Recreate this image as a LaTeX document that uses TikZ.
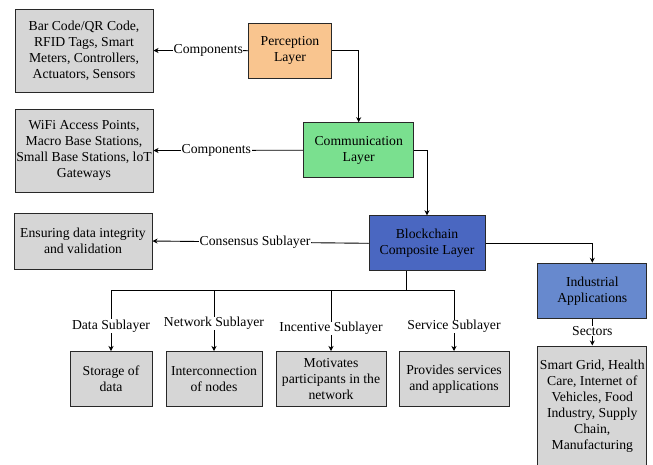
\documentclass[tikz,border=0pt]{standalone}
\usepackage{fontspec}
\setmainfont{Liberation Serif}
\newfontfamily\diagserif{Liberation Serif}
\usetikzlibrary{arrows.meta}
\definecolor{percfill}{RGB}{249,197,143}
\definecolor{commfill}{RGB}{122,224,143}
\definecolor{blockfill}{RGB}{74,103,193}
\definecolor{indfill}{RGB}{103,137,206}
\definecolor{greyfill}{RGB}{214,214,214}
\definecolor{edgeline}{RGB}{40,40,40}
\newcommand{\diagfont}{\diagserif\fontsize{13.7}{16}\selectfont}
\tikzset{
  box/.style={draw=edgeline, line width=1pt, align=center, inner sep=1pt,
    font=\diagfont},
  infobox/.style={box, fill=greyfill},
  conn/.style={line width=0.9pt, -{Stealth[length=5pt,width=5pt,inset=1.5pt]}},
  plain/.style={line width=0.9pt},
  lbl/.style={fill=white, inner sep=0.5pt, font=\diagfont}
}
\begin{document}
\begin{tikzpicture}[x=1pt,y=-1pt]
\useasboundingbox (0,0) rectangle (653,464);

% component / description boxes
\node[infobox, minimum width=138pt, minimum height=83pt] (barcode) at (84,50.5)
  {Bar Code/QR Code,\\RFID Tags, Smart\\Meters, Controllers,\\Actuators, Sensors};
\node[infobox, minimum width=138pt, minimum height=83pt] (wifi) at (84,150.5)
  {WiFi Access Points,\\Macro Base Stations,\\Small Base Stations, loT\\Gateways};
\node[infobox, minimum width=138pt, minimum height=56pt] (ensure) at (83,241)
  {Ensuring data integrity\\and validation};

% layers
\node[box, fill=percfill, minimum width=83pt, minimum height=55pt] (perc) at (290,50.7)
  {Perception\\Layer};
\node[box, fill=commfill, minimum width=110pt, minimum height=55pt] (comm) at (358.7,150.2)
  {Communication\\Layer};
\node[box, fill=blockfill, minimum width=116pt, minimum height=55pt] (block) at (427,243.3)
  {Blockchain\\Composite Layer};
\node[box, fill=indfill, minimum width=109pt, minimum height=55pt] (indus) at (592.3,290.8)
  {Industrial\\Applications};
\node[infobox, minimum width=109pt, minimum height=120pt] (sectorbox) at (592.3,406)
  {Smart Grid, Health\\Care, Internet of\\Vehicles, Food\\Industry, Supply\\Chain,\\Manufacturing};

% sublayer boxes
\node[infobox, minimum width=82pt, minimum height=55pt] (storage) at (111,379)
  {Storage of\\data};
\node[infobox, minimum width=96pt, minimum height=55pt] (intercon) at (214,379)
  {Interconnection\\of nodes};
\node[infobox, minimum width=110pt, minimum height=55pt] (motiv) at (331,379)
  {Motivates\\participants in the\\network};
\node[infobox, minimum width=110pt, minimum height=55pt] (service) at (454,379)
  {Provides services\\and applications};

% layer flow
\draw[conn] (perc.east) -| (comm.north);
\draw[conn] (comm.east) -| (block.north);
\draw[conn] (block.east) -| (indus.north);

% side connectors with labels
\draw[conn] (perc.west) -- node[lbl, pos=0.42] {Components} (barcode.east);
\draw[conn] (comm.west) -- node[lbl, pos=0.58] {Components} (wifi.east);
\draw[conn] (block.west) -- node[lbl, pos=0.525] {Consensus Sublayer} (ensure.east);
\draw[conn] (indus.south) -- node[lbl, pos=0.45] {Sectors} (sectorbox.north);

% sublayer bus
\coordinate (trunk) at ([xshift=-21pt]block.south);
\coordinate (bus) at (406,290);
\coordinate (busL) at (111,290);
\coordinate (busN) at (214,290);
\coordinate (busI) at (331,290);
\coordinate (busR) at (454,290);
\draw[plain] (trunk) -- (bus);
\draw[plain] (busL) -- (busR);
\draw[conn] (busL) -- node[lbl, pos=0.59] {Data Sublayer} (storage.north);
\draw[conn] (busN) -- node[lbl, pos=0.55] {Network Sublayer} (intercon.north);
\draw[conn] (busI) -- node[lbl, pos=0.63] {Incentive Sublayer} (motiv.north);
\draw[conn] (busR) -- node[lbl, pos=0.60] {Service Sublayer} (service.north);
\end{tikzpicture}
\end{document}
